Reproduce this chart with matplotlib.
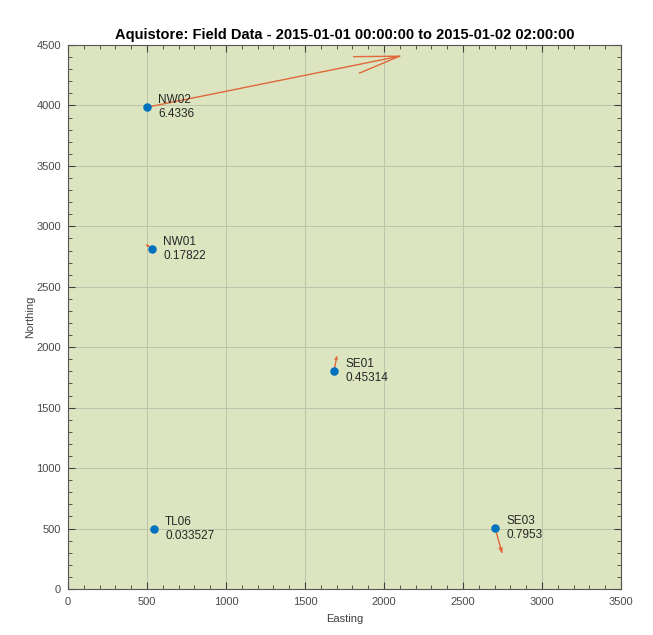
import numpy as np
import matplotlib
matplotlib.use('Agg')
import matplotlib.pyplot as plt
from matplotlib.ticker import MultipleLocator

plt.rcParams['font.family'] = ['Liberation Sans', 'DejaVu Sans']

# Station positions [m] and flow vectors
stations = ['NW02', 'NW01', 'SE01', 'TL06', 'SE03']
easting = [500, 532, 1684, 544, 2703]
northing = [3985, 2812, 1803, 496, 505]
magnitude = [6.4336, 0.17822, 0.45314, 0.033527, 0.7953]
direction = [14.8, 135.0, 82.0, 0.0, -78.0]   # [deg] from east

scale = 257.0          # data units per unit magnitude
alpha, beta = 0.17, 0.25   # arrow head size

blue = '#0072BD'
orange = '#E0683A'

fig = plt.figure(figsize=(6.53, 6.35), dpi=100)
ax = fig.add_axes([68/653, 46/635, 553/653, 544/635])
ax.set_facecolor('#dce5c0')

ax.set_xlim(0, 3500)
ax.set_ylim(0, 4500)
ax.xaxis.set_major_locator(MultipleLocator(500))
ax.yaxis.set_major_locator(MultipleLocator(500))
ax.xaxis.set_minor_locator(MultipleLocator(100))
ax.yaxis.set_minor_locator(MultipleLocator(100))
ax.grid(True, which='major', color='#bcc3ac', linewidth=0.7)
ax.set_axisbelow(True)
ax.tick_params(which='both', direction='in', top=True, right=True,
               colors='#404040', labelcolor='#4a4a4a', labelsize=8)
ax.tick_params(which='major', length=5, width=0.8)
ax.tick_params(axis='x', which='major', pad=6)
ax.tick_params(axis='y', which='major', pad=5)
ax.tick_params(which='minor', length=3, width=0.6)
for s in ax.spines.values():
    s.set_color('#555555')
    s.set_linewidth(0.8)

# quiver drawn as open-headed line arrows
for x, y, m, d in zip(easting, northing, magnitude, direction):
    u = m * scale * np.cos(np.radians(d))
    v = m * scale * np.sin(np.radians(d))
    tx, ty = x + u, y + v
    ax.plot([x, tx], [y, ty], color=orange, lw=1.0, zorder=3)
    ax.plot([tx - alpha*(u + beta*v), tx, tx - alpha*(u - beta*v)],
            [ty - alpha*(v - beta*u), ty, ty - alpha*(v + beta*u)],
            color=orange, lw=1.0, zorder=3)

ax.scatter(easting, northing, s=26, color=blue, zorder=4)

for name, x, y, m in zip(stations, easting, northing, magnitude):
    ax.text(x + 70, y, '%s\n%s' % (name, '%.5g' % m), fontsize=8.5,
            color='#262626', va='center', ha='left', linespacing=1.25, zorder=5)

ax.set_xlabel('Easting', fontsize=8, color='#404040', labelpad=5)
ax.set_ylabel('Northing', fontsize=8, color='#404040', labelpad=1)
ax.set_title('Aquistore: Field Data - 2015-01-01 00:00:00 to 2015-01-02 02:00:00',
             fontsize=10.5, fontweight='bold', pad=4)

fig.savefig('out.png', dpi=100, facecolor='white')
